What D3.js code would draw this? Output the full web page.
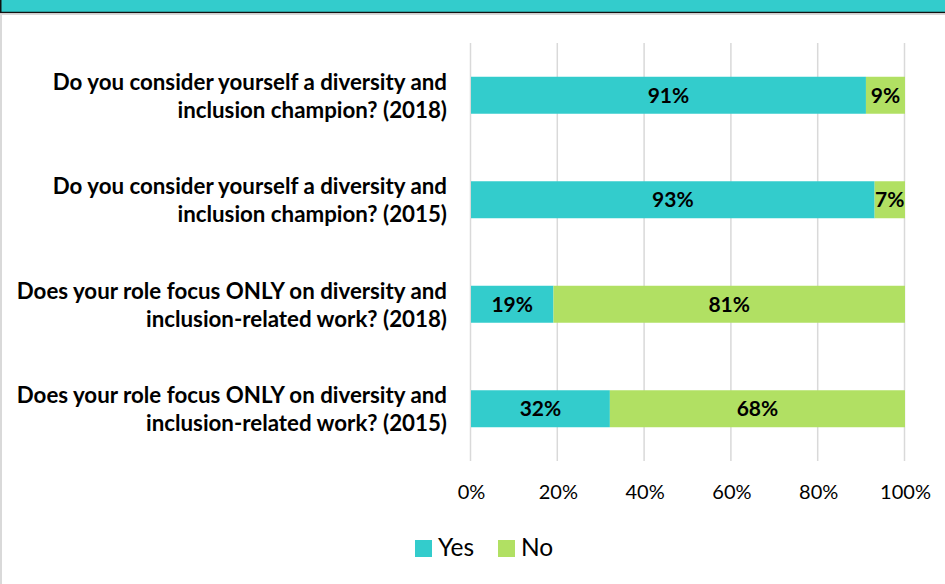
<!DOCTYPE html>
<html>
<head>
<meta charset="utf-8">
<script src="https://cdn.jsdelivr.net/npm/d3@7"></script>
<style>
  html, body { margin: 0; padding: 0; background: #fff; }
  svg { display: block; }
</style>
</head>
<body>
<svg id="chart" width="945" height="584"></svg>
<script>
// Survey questions (top to bottom) and answer shares in percent
const questions = [
  ["Do you consider yourself a diversity and", "inclusion champion? (2018)"],
  ["Do you consider yourself a diversity and", "inclusion champion? (2015)"],
  ["Does your role focus ONLY on diversity and", "inclusion-related work? (2018)"],
  ["Does your role focus ONLY on diversity and", "inclusion-related work? (2015)"]
];
const yesValues = [91, 93, 19, 32];
const noValues = [9, 7, 81, 68];
const seriesNames = ["Yes", "No"];
const seriesColors = ["#33CCCC", "#B1E063"];
const tickValues = [0, 20, 40, 60, 80, 100];

const svg = d3.select("#chart");
const W = 945, H = 584;
const font = "Lato, 'Open Sans', sans-serif";

// Page frame: header band and grey outline
svg.append("rect").attr("x", 0).attr("y", 0).attr("width", W).attr("height", 12).attr("fill", "#33CCCC");
svg.append("line").attr("x1", 0).attr("x2", W).attr("y1", 12.5).attr("y2", 12.5).attr("stroke", "#111").attr("stroke-width", 1.5);
svg.append("line").attr("x1", 0.75).attr("x2", 0.75).attr("y1", 0).attr("y2", 13).attr("stroke", "#111").attr("stroke-width", 1.5);
svg.append("line").attr("x1", 0).attr("x2", W).attr("y1", 14.2).attr("y2", 14.2).attr("stroke", "#d9d9d9").attr("stroke-width", 1.6);
svg.append("line").attr("x1", 1).attr("x2", 1).attr("y1", 14).attr("y2", H).attr("stroke", "#d9d9d9").attr("stroke-width", 2);

const plot = { left: 471, right: 905, top: 43, bottom: 461 };

const x = d3.scaleLinear().domain([0, 100]).range([plot.left, plot.right]);
const y = d3.scaleBand().domain(d3.range(questions.length))
  .range([plot.top, plot.bottom]).paddingInner(0.646).paddingOuter(0.323);

// Vertical gridlines
svg.append("g").selectAll("line").data(tickValues).join("line")
  .attr("x1", d => x(d) - 0.5).attr("x2", d => x(d) - 0.5)
  .attr("y1", plot.top).attr("y2", plot.bottom)
  .attr("stroke", "#d9d9d9").attr("stroke-width", 1.5);

// Stacked bars
const rows = questions.map((q, i) => ({ i, yes: yesValues[i], no: noValues[i] }));
const stack = d3.stack().keys(["yes", "no"])(rows);

stack.forEach((layer, k) => {
  const g = svg.append("g");
  g.selectAll("rect").data(layer).join("rect")
    .attr("x", d => x(d[0]))
    .attr("width", d => x(d[1]) - x(d[0]))
    .attr("y", (d, i) => y(i))
    .attr("height", y.bandwidth())
    .attr("fill", seriesColors[k]);
  g.selectAll("text").data(layer).join("text")
    .attr("x", d => (x(d[0]) + x(d[1])) / 2)
    .attr("y", (d, i) => y(i) + y.bandwidth() / 2)
    .attr("dy", "0.36em")
    .attr("text-anchor", "middle")
    .attr("font-family", font)
    .attr("font-weight", "bold")
    .attr("font-size", 21)
    .attr("fill", "#000")
    .text(d => (d[1] - d[0]) + "%");
});

// Category labels (two lines each, right-aligned)
const labels = svg.append("g");
questions.forEach((q, i) => {
  const cy = y(i) + y.bandwidth() / 2;
  const t = labels.append("text")
    .attr("text-anchor", "end")
    .attr("font-family", font)
    .attr("font-weight", "bold")
    .attr("font-size", 22.3)
    .attr("fill", "#000");
  t.append("tspan").attr("x", 447).attr("y", cy - 5.5).text(q[0]);
  t.append("tspan").attr("x", 447).attr("y", cy + 22.5).text(q[1]);
});

// Axis tick labels
const axis = svg.append("g").attr("transform", `translate(0,${plot.bottom})`)
  .call(d3.axisBottom(x).tickValues(tickValues).tickFormat(d => d + "%").tickSize(0).tickPadding(24));
axis.select(".domain").remove();
axis.selectAll("text").attr("font-family", font).attr("font-size", 20).attr("fill", "#000");

// Legend
const legendItems = [
  { name: seriesNames[0], color: seriesColors[0], x: 415 },
  { name: seriesNames[1], color: seriesColors[1], x: 498 }
];
const legend = svg.append("g");
const lg = legend.selectAll("g").data(legendItems).join("g");
lg.append("rect").attr("x", d => d.x).attr("y", 540).attr("width", 17).attr("height", 17).attr("fill", d => d.color);
lg.append("text").attr("x", d => d.x + 23).attr("y", 556)
  .attr("font-family", font).attr("font-size", 24.5).attr("fill", "#000")
  .text(d => d.name);
</script>
</body>
</html>
